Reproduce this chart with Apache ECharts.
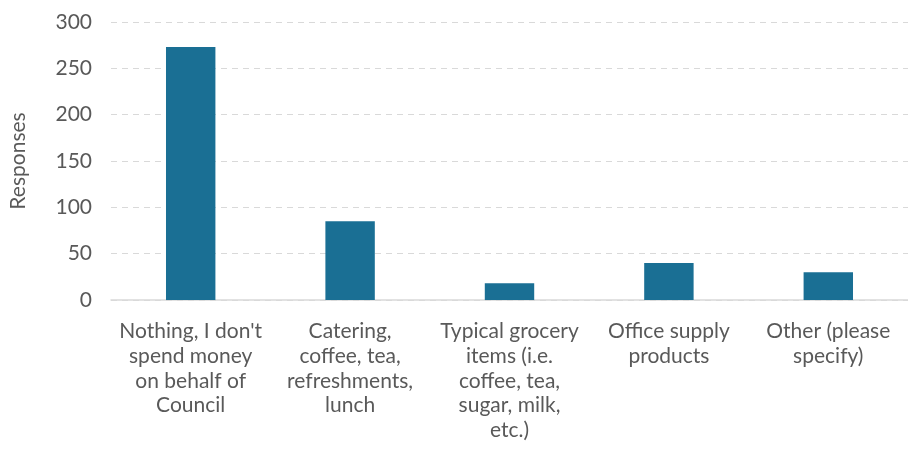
<!DOCTYPE html>
<html lang="en">
<head>
    <meta charset="UTF-8">
    <title>Responses</title>
    <style>
      * { padding: 0; margin: 0; }
    </style>
</head>
<body>
    <div id="main" style="width: 908px;height:459px;"></div>
    <script src="https://cdn.jsdelivr.net/npm/echarts@6/dist/echarts.min.js"></script>
    <script>
     var categories = [
         "Nothing, I don't\nspend money\non behalf of\nCouncil",
         "Catering,\ncoffee, tea,\nrefreshments,\nlunch",
         "Typical grocery\nitems (i.e.\ncoffee, tea,\nsugar, milk,\netc.)",
         "Office supply\nproducts",
         "Other (please\nspecify)"
     ];
     var responses = [273, 85, 18, 40, 30];
     var yTicks = { min: 0, max: 300, interval: 50 };

     var font = 'Lato, "Open Sans", sans-serif';

     var option = {
         animation: false,
         grid: { left: 111, right: 0, top: 22, bottom: 159, outerBoundsMode: 'none' },
         xAxis: {
             type: 'category',
             data: categories,
             axisLine: { lineStyle: { color: '#d9d9d9', width: 1.5 } },
             axisTick: { show: false },
             axisLabel: {
                 interval: 0,
                 margin: 19,
                 color: '#595959',
                 fontFamily: font,
                 fontSize: 21,
                 lineHeight: 24.75
             }
         },
         yAxis: {
             type: 'value',
             min: yTicks.min,
             max: yTicks.max,
             interval: yTicks.interval,
             name: 'Responses',
             nameLocation: 'middle',
             nameGap: 82,
             nameTextStyle: { color: '#595959', fontFamily: font, fontSize: 21 },
             axisLine: { show: false },
             axisTick: { show: false },
             axisLabel: { margin: 19, color: '#595959', fontFamily: font, fontSize: 21 },
             splitLine: { lineStyle: { color: '#d9d9d9', type: [6, 5], width: 1.2 } }
         },
         series: [{
             type: 'bar',
             data: responses,
             barWidth: '31%',
             itemStyle: { color: '#1a6f94' }
         }]
     };

     var myChart = echarts.init(document.getElementById('main'));
     myChart.setOption(option);
    </script>
</body>
</html>
